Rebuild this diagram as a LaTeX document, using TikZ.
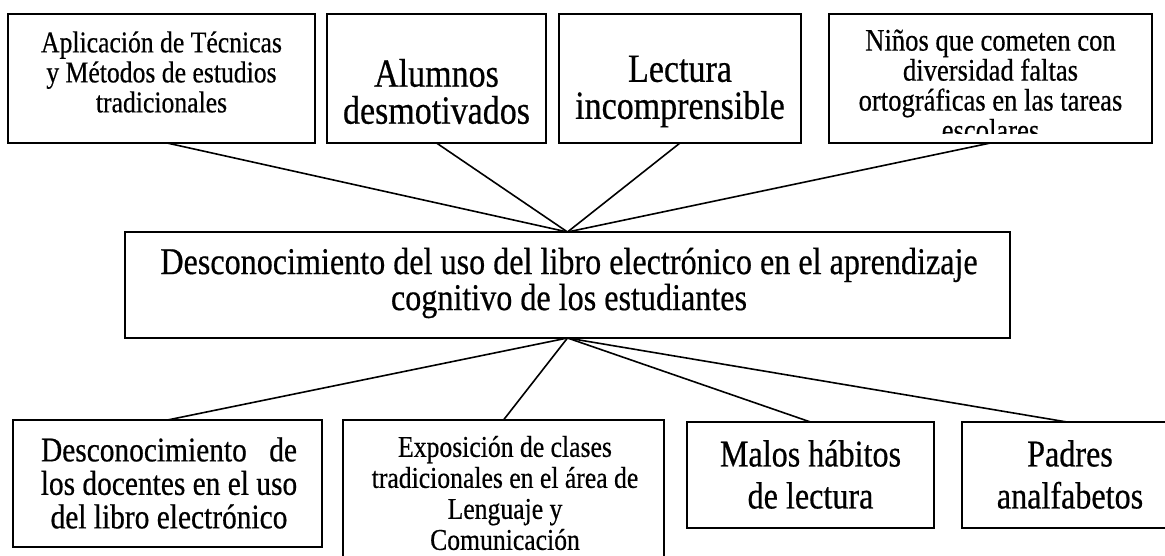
\documentclass[tikz,border=0pt]{standalone}
\usepackage{fontspec}
\setmainfont{Liberation Serif}[FakeStretch=0.85,FakeBold=0.5]
\begin{document}
\begin{tikzpicture}[x=1pt,y=-1pt,
  box/.style={draw, line width=1.6pt, inner sep=0pt, outer sep=0pt},
  lbl/.style={align=center, inner sep=0pt, outer sep=0pt},
  link/.style={line width=1.6pt},
  fa/.style={font=\fontsize{30.2pt}{30pt}\selectfont},
  fb/.style={font=\fontsize{40pt}{37pt}\selectfont},
  fc/.style={font=\fontsize{31.3pt}{30pt}\selectfont},
  fd/.style={font=\fontsize{37.8pt}{36pt}\selectfont},
  fe/.style={font=\fontsize{34.6pt}{33.5pt}\selectfont},
  ff/.style={font=\fontsize{30.2pt}{31pt}\selectfont},
  fg/.style={font=\fontsize{37.8pt}{42pt}\selectfont}]
\clip (0,0) rectangle (1165,556);
\fill[white] (0,0) rectangle (1165,556);
% top boxes
\node[box, minimum width=307pt, minimum height=129pt] (t1) at (161.5,78.5) {};
\node[box, minimum width=219pt, minimum height=129pt] (t2) at (436.5,78.5) {};
\node[box, minimum width=242pt, minimum height=129pt] (t3) at (680,78.5) {};
\node[box, minimum width=323pt, minimum height=129pt] (t4) at (990.5,78.5) {};
\node[lbl, fa] (t1l) at (161.5,72) {Aplicación de Técnicas\\y Métodos de estudios\\tradicionales};
\node[lbl, fb] (t2l) at (436.5,91.5) {Alumnos\\desmotivados};
\node[lbl, fb] (t3l) at (680,91.5) {Lectura\\incomprensible};
\begin{scope}
  \clip (829,14) rectangle (1152,134);
  \node[lbl, fc] (t4l) at (990.5,85.2) {Niños que cometen con\\diversidad faltas\\ortográficas en las tareas\\escolares};
\end{scope}
% central box
\node[box, minimum width=885pt, minimum height=106pt] (c) at (567.5,285) {};
\node[lbl, fd] (cl) at (569,283) {Desconocimiento del uso del libro electrónico en el aprendizaje\\cognitivo de los estudiantes};
% bottom boxes
\node[box, minimum width=309pt, minimum height=127pt] (b1) at (167.5,483.5) {};
\node[box, minimum width=321pt, minimum height=180pt] (b2) at (503.5,510) {};
\node[box, minimum width=247pt, minimum height=106pt] (b3) at (810.5,475) {};
\node[box, minimum width=216pt, minimum height=106pt] (b4) at (1070,475) {};
\node[lbl, fe] (b1l) at (169,483) {\makebox[256pt]{Desconocimiento\hfill de}\\los docentes en el uso\\del libro electrónico};
\node[lbl, ff] (b2l) at (505,493) {Exposición de clases\\tradicionales en el área de\\Lenguaje y\\Comunicación};
\node[lbl, fg] (b3l) at (810.5,474.5) {Malos hábitos\\de lectura};
\node[lbl, fg] (b4l) at (1070,474.5) {Padres\\analfabetos};
% connectors
\draw[link] ([xshift=5.5pt]t1.south) -- (c.north);
\draw[link] (t2.south) -- (c.north);
\draw[link] (t3.south) -- (c.north);
\draw[link] (t4.south) -- (c.north);
\draw[link] (c.south) -- (b1.north);
\draw[link] (c.south) -- (b2.north);
\draw[link] (c.south) -- (b3.north);
\draw[link] (c.south) -- ([xshift=-3pt]b4.north);
\end{tikzpicture}
\end{document}
